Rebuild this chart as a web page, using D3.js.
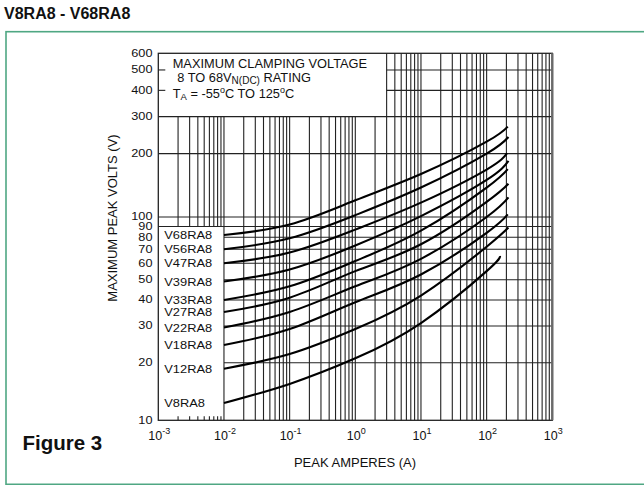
<!DOCTYPE html>
<html>
<head>
<meta charset="utf-8">
<script src="https://cdn.jsdelivr.net/npm/d3@7"></script>
<style>
  body { margin: 0; background: #fff; }
  text { font-family: "Liberation Sans", Arial, Helvetica, sans-serif; fill: #111; }
</style>
</head>
<body>
<div id="vis"></div>
<script>
// clamping voltage vs peak current
var seriesNames = ["V68RA8", "V56RA8", "V47RA8", "V39RA8", "V33RA8", "V27RA8", "V22RA8", "V18RA8", "V12RA8", "V8RA8"];
var ampPoints = [0.01, 0.1, 1, 10, 100];
var endAmps = [210, 215, 205, 215, 210, 215, 215, 210, 215, 160];
// volts at ampPoints, last value is at endAmps
var v68 = [82, 92, 120, 160, 228, 269];
var v56 = [70, 79, 102, 138, 200, 240];
var v47 = [60, 67.5, 87, 117, 168, 201];
var v39 = [49, 56, 73, 101, 150, 185];
var v33 = [40, 46.5, 61.5, 86, 138, 169];
var v27 = [35, 41, 55, 74, 118, 144];
var v22 = [29.5, 35, 46.5, 63, 100, 124];
var v18 = [24.3, 29, 39, 53, 84, 103];
var v12 = [18.6, 22, 29, 42, 72, 89];
var v8 = [12.3, 15.5, 21, 31, 55, 65];
var allVolts = [v68, v56, v47, v39, v33, v27, v22, v18, v12, v8];

var xExponents = ["-3", "-2", "-1", "0", "1", "2", "3"];
var yTickLabels = [10, 20, 30, 40, 50, 60, 70, 80, 90, 100, 200, 300, 400, 500, 600];

var w = 644;
var h = 485;

var svg = d3.select("#vis").append("svg").attr("width", w).attr("height", h);

var x = d3.scaleLog().domain([0.001, 1000]).range([158.3, 552.3]);
// the printed log axis is not quite even, so pin a few decades
var y = d3.scaleLog().domain([10, 20, 100, 600]).range([420.3, 362.7, 217, 53.3]);

// green frame, runs off the right side
svg.append("rect")
  .attr("x", 6)
  .attr("y", 31.7)
  .attr("width", 700)
  .attr("height", 452.6)
  .attr("fill", "none")
  .attr("stroke", "#4fa783")
  .attr("stroke-width", 1.6);

svg.append("text")
  .attr("x", 4)
  .attr("y", 19)
  .style("font-size", "16px")
  .style("font-weight", "bold")
  .text("V8RA8 - V68RA8");

svg.append("text")
  .attr("x", 22.5)
  .attr("y", 450)
  .style("font-size", "20.5px")
  .style("font-weight", "bold")
  .text("Figure 3");

var grid = svg.append("g").attr("stroke", "#222").attr("stroke-width", 1.1);

// vertical grid
x.ticks().forEach(function (v) {
  if (v <= 0.00101 || v >= 999) return;
  if (v < 0.0099) {
    grid.append("line").attr("x1", x(v)).attr("x2", x(v)).attr("y1", y(300)).attr("y2", y(90));
    grid.append("line").attr("x1", x(v)).attr("x2", x(v)).attr("y1", y(10)).attr("y2", y(10) - 4);
  } else if (v >= 2.99) {
    grid.append("line").attr("x1", x(v)).attr("x2", x(v)).attr("y1", y(10)).attr("y2", y(600));
  } else {
    grid.append("line").attr("x1", x(v)).attr("x2", x(v)).attr("y1", y(10)).attr("y2", y(300));
  }
});

// horizontal grid
yTickLabels.forEach(function (v) {
  if (v == 10 || v == 600) return;
  if (v < 90) {
    grid.append("line").attr("x1", x(0.01)).attr("x2", x(1000)).attr("y1", y(v)).attr("y2", y(v));
  } else if (v == 400 || v == 500) {
    grid.append("line").attr("x1", x(3)).attr("x2", x(1000)).attr("y1", y(v)).attr("y2", y(v));
    grid.append("line").attr("x1", x(0.001)).attr("x2", x(0.001) + 7).attr("y1", y(v)).attr("y2", y(v));
  } else {
    grid.append("line").attr("x1", x(0.001)).attr("x2", x(1000)).attr("y1", y(v)).attr("y2", y(v));
  }
});

// plot border
svg.append("rect")
  .attr("x", x(0.001))
  .attr("y", y(600))
  .attr("width", x(1000) - x(0.001))
  .attr("height", y(10) - y(600))
  .attr("fill", "none")
  .attr("stroke", "#222")
  .attr("stroke-width", 1.3);
svg.append("line")
  .attr("x1", x(1000)).attr("x2", x(1000))
  .attr("y1", y(600)).attr("y2", y(10))
  .attr("stroke", "#6a6a6a")
  .attr("stroke-width", 2.4);

// y tick labels, the print is a bit stretched sideways
svg.selectAll(".ylab")
  .data(yTickLabels)
  .enter()
  .append("text")
  .attr("class", "ylab")
  .attr("transform", function (d) { return "translate(152.5," + (y(d) + 3.4) + ") scale(1.2,1)"; })
  .attr("text-anchor", "end")
  .style("font-size", "10.6px")
  .text(function (d) { return d; });

// x tick labels 10^n
var xl = svg.selectAll(".xlab")
  .data(xExponents)
  .enter()
  .append("text")
  .attr("class", "xlab")
  .attr("x", function (d) { return x(Math.pow(10, +d)) + 1; })
  .attr("y", 439.5)
  .attr("text-anchor", "middle")
  .style("font-size", "12.5px");
xl.append("tspan").text("10");
xl.append("tspan").attr("dy", -5.5).style("font-size", "9px").text(function (d) { return d; });

svg.append("text")
  .attr("x", 355)
  .attr("y", 467.3)
  .attr("text-anchor", "middle")
  .style("font-size", "13px")
  .text("PEAK AMPERES (A)");

svg.append("text")
  .attr("transform", "translate(117,218) rotate(-90)")
  .attr("text-anchor", "middle")
  .style("font-size", "13px")
  .text("MAXIMUM PEAK VOLTS (V)");

// note box text
svg.append("text")
  .attr("x", 172.7)
  .attr("y", 68)
  .style("font-size", "12.8px")
  .text("MAXIMUM CLAMPING VOLTAGE");

var l2 = svg.append("text").attr("x", 177.3).attr("y", 81.5).style("font-size", "12.8px");
l2.append("tspan").text("8 TO 68V");
l2.append("tspan").attr("dy", 2.6).style("font-size", "10px").text("N(DC)");
l2.append("tspan").attr("dy", -2.6).text(" RATING");

var l3 = svg.append("text").attr("x", 172.7).attr("y", 97.5).style("font-size", "12.8px");
l3.append("tspan").text("T");
l3.append("tspan").attr("dy", 2.6).style("font-size", "9.5px").text("A");
l3.append("tspan").attr("dy", -2.6).text(" = -55");
l3.append("tspan").attr("dy", -5).style("font-size", "9px").text("o");
l3.append("tspan").attr("dy", 5).text("C TO 125");
l3.append("tspan").attr("dy", -5).style("font-size", "9px").text("o");
l3.append("tspan").attr("dy", 5).text("C");

// curves
var line = d3.line()
  .x(function (d) { return x(d[0]); })
  .y(function (d) { return y(d[1]); })
  .curve(d3.curveNatural);

allVolts.forEach(function (vals, i) {
  var pts = ampPoints.map(function (a, j) { return [a, vals[j]]; });
  pts.push([endAmps[i], vals[5]]);
  svg.append("path")
    .attr("d", line(pts))
    .attr("fill", "none")
    .attr("stroke", "#000")
    .attr("stroke-width", 2.1);

  svg.append("text")
    .attr("transform", "translate(164.3," + (y(vals[0]) + 4.2) + ") scale(1.09,1)")
    .style("font-size", "11.8px")
    .text(seriesNames[i]);
});
</script>
</body>
</html>
